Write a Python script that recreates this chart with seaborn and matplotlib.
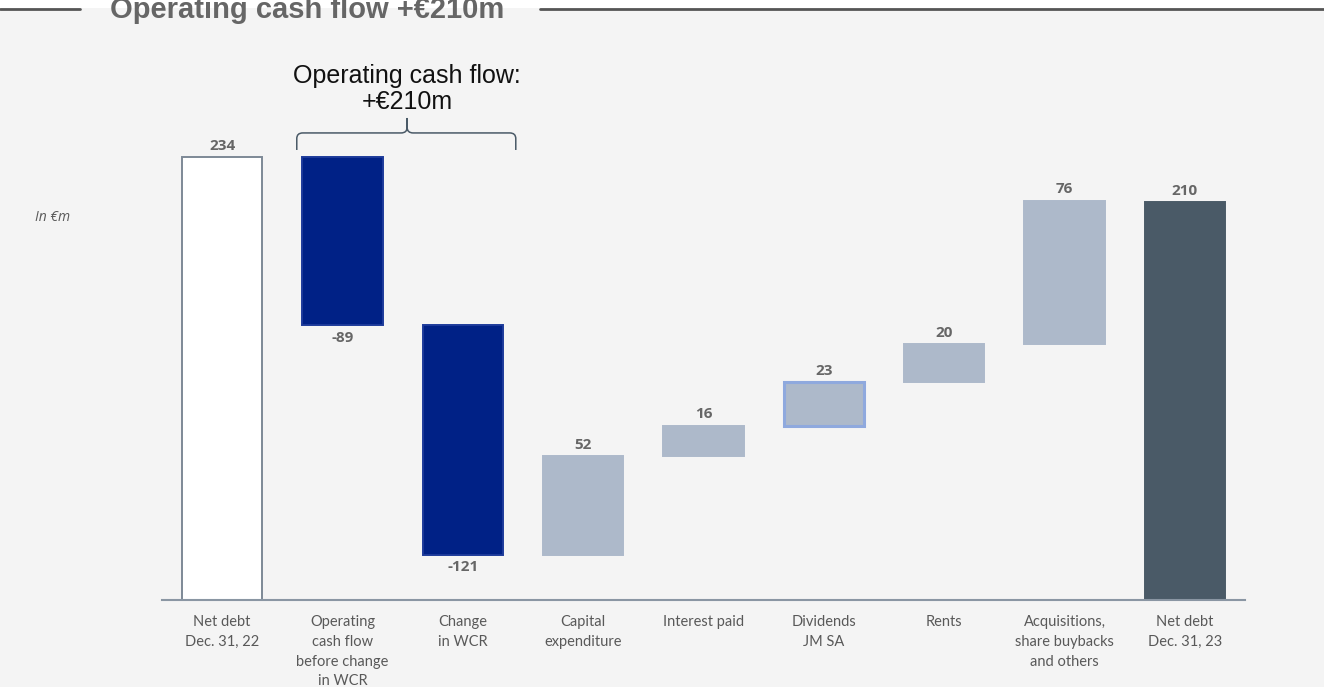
import matplotlib
matplotlib.use("Agg")
import matplotlib.pyplot as plt
import seaborn as sns
import pandas as pd
from matplotlib.path import Path
from matplotlib.patches import PathPatch, Rectangle
from matplotlib.lines import Line2D

# Net debt bridge, in EUR m
categories = [
    "Net debt\nDec. 31, 22",
    "Operating\ncash flow\nbefore change\nin WCR",
    "Change\nin WCR",
    "Capital\nexpenditure",
    "Interest paid",
    "Dividends\nJM SA",
    "Rents",
    "Acquisitions,\nshare buybacks\nand others",
    "Net debt\nDec. 31, 23",
]
values = [234, -89, -121, 52, 16, 23, 20, 76, 210]
is_total = [True, False, False, False, False, False, False, False, True]
value_labels = ["234", "-89", "-121", "52", "16", "23", "20", "76", "210"]
bar_colors = ["#ffffff", "#002186", "#002186", "#adb9ca", "#adb9ca",
              "#adb9ca", "#adb9ca", "#adb9ca", "#4a5a67"]
edge_colors = ["#7d8996", "#1d3a9a", "#1d3a9a", "#adb9ca", "#adb9ca",
               "#8fa9de", "#adb9ca", "#adb9ca", "#4a5a67"]

# floating bar extents
bottoms, tops = [], []
level = 0
for v, tot in zip(values, is_total):
    if tot:
        b, t = 0, v
        level = v
    else:
        start, end = level, level + v
        b, t = min(start, end), max(start, end)
        level = end
    bottoms.append(b)
    tops.append(t)

df = pd.DataFrame({"category": categories,
                   "height": [t - b for b, t in zip(bottoms, tops)]})

sns.set_theme(style="white")
plt.rcParams["font.family"] = ["Lato", "DejaVu Sans"]

W, H = 1324, 687
fig = plt.figure(figsize=(W / 100, H / 100), dpi=100, facecolor="#f4f4f4")
ax = fig.add_axes([162 / W, 87 / H, (1245 - 162) / W, 500 / H])
ax.set_facecolor("#f4f4f4")

sns.barplot(data=df, x="category", y="height", hue="category",
            palette=bar_colors, order=categories, hue_order=categories,
            width=0.67, legend=False, ax=ax, saturation=1)

for i, p in enumerate(ax.patches):
    p.set_y(bottoms[i])
    p.set_height(tops[i] - bottoms[i])
    p.set_edgecolor(edge_colors[i])
    p.set_linewidth(2.2 if i == 5 else 1.4)

for i, (v, lab) in enumerate(zip(values, value_labels)):
    if v < 0:
        ax.text(i, bottoms[i] - 3, lab, ha="center", va="top",
                fontsize=11, fontweight="bold", color="#666666",
                family="Open Sans")
    else:
        ax.text(i, tops[i] + 2.3, lab, ha="center", va="bottom",
                fontsize=11, fontweight="bold", color="#666666",
                family="Open Sans")

ax.set_xlim(-0.5, 8.5)
ax.set_ylim(0, 264.1)
ax.set_xlabel("")
ax.set_ylabel("")
ax.set_yticks([])
for s in ["top", "right", "left"]:
    ax.spines[s].set_visible(False)
ax.spines["bottom"].set_color("#8a96a3")
ax.spines["bottom"].set_linewidth(1.5)
ax.tick_params(axis="x", length=0, pad=11, labelsize=10.5, labelcolor="#595959")
for lab in ax.get_xticklabels():
    lab.set_linespacing(1.52)
    lab.set_verticalalignment("top")

# brace over the operating cash flow bars
x0, x1, xc = 0.62, 2.44, 1.537
yb, ym, yp = 237.7, 246.7, 254.6
rx, ry = 0.05, 3.0
verts = [(x0, yb), (x0, ym - ry), (x0, ym), (x0 + rx, ym),
         (xc - rx, ym), (xc, ym), (xc, ym + ry), (xc, yp),
         (xc, ym + ry), (xc, ym), (xc + rx, ym),
         (x1 - rx, ym), (x1, ym), (x1, ym - ry), (x1, yb)]
codes = [Path.MOVETO, Path.LINETO, Path.CURVE3, Path.CURVE3,
         Path.LINETO, Path.CURVE3, Path.CURVE3, Path.LINETO,
         Path.LINETO, Path.CURVE3, Path.CURVE3,
         Path.LINETO, Path.CURVE3, Path.CURVE3, Path.LINETO]
ax.add_patch(PathPatch(Path(verts, codes), fill=False, edgecolor="#4a5a67",
                       linewidth=1.1, clip_on=False))

fig.text(407 / W, 1 - 89 / H, "Operating cash flow:\n+€210m",
         ha="center", va="center", fontsize=18, color="#111111",
         family="Liberation Sans", linespacing=1.08)

fig.text(35 / W, 1 - 218 / H, "In €m", ha="left", va="center",
         fontsize=10, style="italic", color="#595959", family="Open Sans")

# header band with title
fig.add_artist(Rectangle((0, 1 - 7.5 / H), 1, 7.5 / H, transform=fig.transFigure,
                         facecolor="white", edgecolor="none", zorder=1))
fig.add_artist(Line2D([0, 80 / W], [1 - 9 / H] * 2, transform=fig.transFigure,
                      color="#555555", linewidth=2, zorder=2))
fig.add_artist(Line2D([540 / W, 1], [1 - 9 / H] * 2, transform=fig.transFigure,
                      color="#555555", linewidth=2, zorder=2))
fig.text(307 / W, 1 - 18 / H, "Operating cash flow +€210m", ha="center",
         va="baseline", fontsize=21, fontweight="bold", color="#666666",
         family="Liberation Sans", zorder=3)

fig.savefig("out.png", dpi=100, facecolor=fig.get_facecolor())
